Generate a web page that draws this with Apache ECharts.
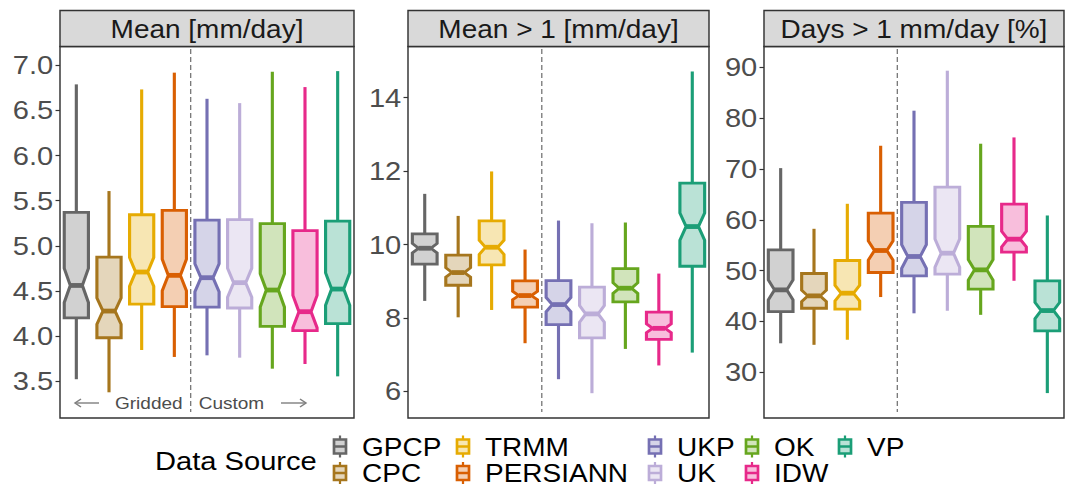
<!DOCTYPE html>
<html>
<head>
<meta charset="utf-8">
<script src="https://cdn.jsdelivr.net/npm/echarts@6/dist/echarts.min.js"></script>
<style>
html,body{margin:0;padding:0;background:#fff;overflow:hidden;}
#wrap{width:951px;height:488px;transform:scaleX(1.11987);transform-origin:0 0;}
</style>
</head>
<body>
<div id="wrap"></div>
<script>
// ---------------- DATA ----------------
const categories = ['GPCP','CPC','TRMM','PERSIANN','UKP','UK','OK','IDW','VP'];
const colors = ['#666666','#A6761D','#E6AB02','#D95F02','#7570B3','#BCADD8','#66A61E','#E7298A','#1B9E77'];
const panelTitles = ['Mean [mm/day]','Mean > 1 [mm/day]','Days > 1 mm/day [%]'];

// Panel 1: Mean [mm/day]
const meanLow     = [3.52, 3.375, 3.844, 3.767, 3.785, 3.759, 3.637, 3.689, 3.552];
const meanQ1      = [4.20, 3.98, 4.354, 4.325, 4.32, 4.31, 4.106, 4.058, 4.136];
const meanMed     = [4.56, 4.276, 4.709, 4.672, 4.646, 4.591, 4.509, 4.269, 4.52];
const meanQ3      = [5.37, 4.875, 5.344, 5.393, 5.285, 5.289, 5.245, 5.167, 5.274];
const meanHigh    = [6.79, 5.607, 6.734, 6.92, 6.63, 6.582, 6.93, 6.76, 6.937];
const meanNotchLo = [4.37, 4.13, 4.55, 4.50, 4.49, 4.43, 4.32, 4.09, 4.34];
const meanNotchHi = [4.75, 4.42, 4.87, 4.85, 4.80, 4.75, 4.69, 4.45, 4.70];
const meanTicks   = [3.5, 4.0, 4.5, 5.0, 5.5, 6.0, 6.5, 7.0];

// Panel 2: Mean > 1 [mm/day]
const wetLow      = [8.467, 8.02, 8.22, 7.315, 6.336, 5.955, 7.16, 6.71, 7.06];
const wetQ1       = [9.465, 8.893, 9.447, 8.30, 7.823, 7.46, 8.44, 7.42, 9.41];
const wetMed      = [9.90, 9.238, 9.927, 8.612, 8.367, 8.113, 8.812, 7.72, 10.49];
const wetQ3       = [10.29, 9.71, 10.644, 9.01, 9.02, 8.84, 9.347, 8.16, 11.67];
const wetHigh     = [11.38, 10.78, 11.99, 9.864, 10.653, 10.58, 10.6, 9.21, 14.71];
const wetNotchLo  = [9.77, 9.11, 9.73, 8.50, 8.17, 7.89, 8.67, 7.60, 10.12];
const wetNotchHi  = [10.03, 9.37, 10.12, 8.73, 8.56, 8.34, 8.96, 7.84, 10.86];
const wetTicks    = [6, 8, 10, 12, 14];

// Panel 3: Days > 1 mm/day [%]
const daysLow     = [35.7, 35.4, 36.4, 44.8, 41.6, 42.1, 41.3, 48.0, 25.9];
const daysQ1      = [41.95, 42.6, 42.41, 49.63, 48.97, 49.3, 46.34, 53.63, 38.14];
const daysMed     = [46.21, 45.03, 45.56, 53.96, 52.78, 53.43, 50.15, 56.19, 42.14];
const daysQ3      = [54.09, 49.43, 51.99, 61.31, 63.41, 66.43, 58.69, 63.08, 47.99];
const daysHigh    = [70.17, 58.23, 63.15, 74.57, 81.47, 89.34, 74.97, 76.21, 60.85];
const daysNotchLo = [44.24, 43.92, 44.01, 52.07, 50.44, 50.65, 48.15, 54.66, 40.54];
const daysNotchHi = [48.18, 46.14, 47.11, 55.85, 55.12, 56.21, 52.15, 57.72, 43.74];
const daysTicks   = [30, 40, 50, 60, 70, 80, 90];

const legendTitle = 'Data Source';
const leftNote = 'Gridded';
const rightNote = 'Custom';

// ---------------- LAYOUT ----------------
const S = 1065 / 951;            // horizontal stretch applied by CSS
const X = v => v / S;            // reference px -> canvas px
const FONT = '"Liberation Sans", Arial, Helvetica, sans-serif';

const panels = [
  {low: meanLow, q1: meanQ1, med: meanMed, q3: meanQ3, high: meanHigh, nlo: meanNotchLo, nhi: meanNotchHi,
   ticks: meanTicks, min: 3.09, max: 7.21, fmt: v => Number(v).toFixed(1), left: 60, right: 354},
  {low: wetLow, q1: wetQ1, med: wetMed, q3: wetQ3, high: wetHigh, nlo: wetNotchLo, nhi: wetNotchHi,
   ticks: wetTicks, min: 5.28, max: 15.39, fmt: v => String(v), left: 408, right: 709},
  {low: daysLow, q1: daysQ1, med: daysMed, q3: daysQ3, high: daysHigh, nlo: daysNotchLo, nhi: daysNotchHi,
   ticks: daysTicks, min: 21.0, max: 94.1, fmt: v => String(v), left: 764, right: 1064}
];
const plotTop = 46.5, plotBottom = 418;
const stripTop = 10.5;

function alpha(hex, a) {
  const r = parseInt(hex.slice(1,3),16), g = parseInt(hex.slice(3,5),16), b = parseInt(hex.slice(5,7),16);
  return 'rgba(' + r + ',' + g + ',' + b + ',' + a + ')';
}

function renderBox(params, api) {
  const i = api.value(0);
  const col = colors[i];
  const cx = api.coord([i, 0])[0];
  const bw = api.size([1, 0])[0] * 0.74;
  const xl = cx - bw / 2, xr = cx + bw / 2, nw = bw * 0.25;
  const y = k => api.coord([i, api.value(k)])[1];
  const yLow = y(1), yQ1 = y(2), yNlo = y(3), yMed = y(4), yNhi = y(5), yQ3 = y(6), yHigh = y(7);
  const lw = 2.8;
  return {
    type: 'group',
    children: [
      {type: 'line', shape: {x1: cx, y1: yHigh, x2: cx, y2: yQ3}, style: {stroke: col, lineWidth: lw}},
      {type: 'line', shape: {x1: cx, y1: yQ1, x2: cx, y2: yLow}, style: {stroke: col, lineWidth: lw}},
      {type: 'polygon', shape: {points: [
        [xl, yQ3], [xr, yQ3], [xr, yNhi], [xr - nw, yMed], [xr, yNlo], [xr, yQ1],
        [xl, yQ1], [xl, yNlo], [xl + nw, yMed], [xl, yNhi]
      ]}, style: {fill: alpha(col, 0.3), stroke: col, lineWidth: lw, lineJoin: 'miter'}},
      {type: 'line', shape: {x1: xl + nw, y1: yMed, x2: xr - nw, y2: yMed}, style: {stroke: col, lineWidth: 4.8}}
    ]
  };
}

const grids = [], xAxes = [], yAxes = [], series = [];
panels.forEach((p, k) => {
  grids.push({left: X(p.left), top: plotTop, width: X(p.right - p.left), height: plotBottom - plotTop,
    show: true, borderColor: '#333333', borderWidth: 1.3, backgroundColor: '#ffffff'});
  xAxes.push({type: 'category', gridIndex: k, data: categories, boundaryGap: true,
    axisLine: {show: false}, axisTick: {show: false}, axisLabel: {show: false}, splitLine: {show: false}});
  yAxes.push({type: 'value', gridIndex: k, min: p.min, max: p.max, scale: true,
    axisLine: {show: false}, splitLine: {show: false},
    axisTick: {show: true, length: 4, lineStyle: {color: '#333333', width: 1.2}, customValues: p.ticks},
    axisLabel: {show: true, margin: 6, color: '#4D4D4D', fontSize: 26, fontFamily: FONT,
      customValues: p.ticks, formatter: p.fmt}});
  const data = categories.map((c, i) => [i, p.low[i], p.q1[i], p.nlo[i], p.med[i], p.nhi[i], p.q3[i], p.high[i]]);
  series.push({type: 'custom', name: panelTitles[k], xAxisIndex: k, yAxisIndex: k,
    renderItem: renderBox, encode: {x: 0, y: [1, 2, 3, 4, 5, 6, 7]}, data: data, silent: true, animation: false});
});

const chart = echarts.init(document.getElementById('wrap'), null, {renderer: 'svg'});
chart.setOption({
  animation: false,
  backgroundColor: '#ffffff',
  grid: grids, xAxis: xAxes, yAxis: yAxes, series: series
});

// ---------------- GRAPHICS: strips, dividers, notes, legend ----------------
const g = [];
panels.forEach((p, k) => {
  const l = X(p.left), w = X(p.right - p.left);
  g.push({type: 'rect', shape: {x: l, y: stripTop, width: w, height: plotTop - stripTop},
    style: {fill: '#D9D9D9', stroke: '#333333', lineWidth: 1.3}, z: 10});
  g.push({type: 'text', x: l + w / 2, y: (stripTop + plotTop) / 2 + 1, z: 11,
    style: {text: panelTitles[k], font: '25px ' + FONT, fill: '#1A1A1A', align: 'center', verticalAlign: 'middle'}});
  const xa = chart.convertToPixel({xAxisIndex: k}, categories[3]);
  const xb = chart.convertToPixel({xAxisIndex: k}, categories[4]);
  const xd = (xa + xb) / 2;
  g.push({type: 'line', shape: {x1: xd, y1: 49, x2: xd, y2: 412}, z: 5,
    style: {stroke: '#7A7A7A', lineWidth: 1.2, lineDash: [5, 3]}});
  if (k === 0) {
    const ny = 403;
    g.push({type: 'text', x: xd - X(8), y: ny, z: 11,
      style: {text: leftNote, font: '17px ' + FONT, fill: '#4D4D4D', align: 'right', verticalAlign: 'middle'}});
    g.push({type: 'text', x: xd + X(8), y: ny, z: 11,
      style: {text: rightNote, font: '17px ' + FONT, fill: '#4D4D4D', align: 'left', verticalAlign: 'middle'}});
    // left arrow
    g.push({type: 'polyline', shape: {points: [[X(75), ny], [X(99), ny]]}, style: {stroke: '#7F7F7F', lineWidth: 1.4}, z: 11});
    g.push({type: 'polyline', shape: {points: [[X(81), ny - 4], [X(75), ny], [X(81), ny + 4]]}, style: {stroke: '#7F7F7F', lineWidth: 1.4, fill: null}, z: 11});
    // right arrow
    g.push({type: 'polyline', shape: {points: [[X(281), ny], [X(306), ny]]}, style: {stroke: '#7F7F7F', lineWidth: 1.4}, z: 11});
    g.push({type: 'polyline', shape: {points: [[X(300), ny - 4], [X(306), ny], [X(300), ny + 4]]}, style: {stroke: '#7F7F7F', lineWidth: 1.4, fill: null}, z: 11});
  }
});

// legend
g.push({type: 'text', x: X(155), y: 461, style: {text: legendTitle, font: '26px ' + FONT, fill: '#000', align: 'left', verticalAlign: 'middle'}});
const keyCols = [340, 463, 655, 752, 845];
const keyRows = [446.5, 473];
categories.forEach((c, i) => {
  const col = Math.floor(i / 2), row = i % 2;
  const cx = X(keyCols[col]), cy = keyRows[row];
  const kw = X(12), kh = 14;
  g.push({type: 'line', shape: {x1: cx, y1: cy - 11, x2: cx, y2: cy - kh / 2}, style: {stroke: colors[i], lineWidth: 2}});
  g.push({type: 'line', shape: {x1: cx, y1: cy + kh / 2, x2: cx, y2: cy + 11}, style: {stroke: colors[i], lineWidth: 2}});
  g.push({type: 'rect', shape: {x: cx - kw / 2, y: cy - kh / 2, width: kw, height: kh},
    style: {fill: alpha(colors[i], 0.3), stroke: colors[i], lineWidth: 2.4}});
  g.push({type: 'line', shape: {x1: cx - kw / 2, y1: cy, x2: cx + kw / 2, y2: cy}, style: {stroke: colors[i], lineWidth: 2.5}});
  g.push({type: 'text', x: cx + X(22), y: cy + 1,
    style: {text: c, font: '25px ' + FONT, fill: '#000', align: 'left', verticalAlign: 'middle'}});
});

chart.setOption({graphic: g});
</script>
</body>
</html>
